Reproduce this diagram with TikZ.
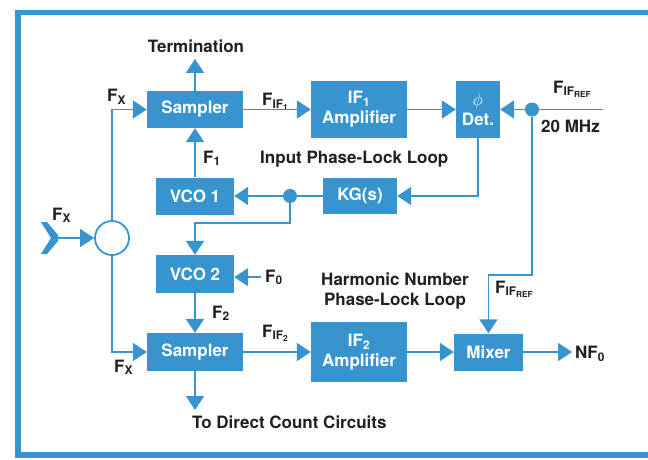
\documentclass[tikz,border=0pt]{standalone}
\usepackage[no-math]{fontspec}
\setmainfont{TeX Gyre Heros}
\usepackage{tikz}
\usetikzlibrary{arrows.meta}

\definecolor{hpblue}{RGB}{56,148,207}
\definecolor{ink}{RGB}{35,31,32}
\newcommand{\diagfont}{\fontsize{17}{20}\selectfont\bfseries}

\tikzset{
  blk/.style={fill=hpblue,text=white,font=\diagfont,inner sep=0pt,align=center},
  sig/.style={draw=hpblue,line width=1.8pt},
  flow/.style={sig,-{Triangle[length=14pt,width=18pt]}},
  lbl/.style={text=ink,font=\diagfont,inner sep=0pt},
  junc/.style={circle,fill=hpblue,minimum size=14pt,inner sep=0pt}
}

\begin{document}
\begin{tikzpicture}[x=1pt,y=-1pt]
       \useasboundingbox (0,0) rectangle (648,460);
       \clip (0,0) rectangle (648,460);
       \draw[hpblue,line width=5.5pt] (660,12.5) -- (18,12.5) -- (18,455) -- (660,455);

       \begin{scope}
         \node[blk,minimum width=96pt,minimum height=37pt] (smp1) at (195,109.5) {Sampler};
         \node[blk,minimum width=96pt,minimum height=56pt] (if1) at (359,109.5) {IF\textsubscript{1}\\Amplifier};
         \node[blk,minimum width=44pt,minimum height=56pt] (det) at (478,109.5) {{\fontsize{16}{16}\selectfont$\phi$}\\Det.};
         \node[blk,minimum width=74pt,minimum height=36pt] (kg) at (360,196) {KG(s)};
         \node[blk,minimum width=78pt,minimum height=37pt] (vco1) at (195,196) {VCO 1};
         \node[blk,minimum width=78pt,minimum height=38pt] (vco2) at (195,274) {VCO 2};
         \node[blk,minimum width=96pt,minimum height=38pt] (smp2) at (195,352) {Sampler};
         \node[blk,minimum width=96pt,minimum height=60pt] (if2) at (359,352) {IF\textsubscript{2}\\Amplifier};
         \node[blk,minimum width=69pt,minimum height=37pt] (mix) at (488.5,352) {Mixer};
         \node[circle,draw=hpblue,line width=1.8pt,fill=white,minimum size=34pt,inner sep=0pt] (cin) at (112,238) {};
         \node[junc] (dot1) at (532,109.5) {};
         \node[junc] (dot2) at (290,196) {};
       \end{scope}

       \coordinate (term) at (195,59);
       \coordinate (fref) at (603,109.5);
       \coordinate (split) at (195,223);
       \coordinate (turn) at (488.5,275);
       \coordinate (cnt) at (195,410);
       \coordinate (xin) at (56,238);

       \node[lbl,anchor=base] (termtxt) at (196,53) {Termination};
       \node[lbl,anchor=base west] (fx1) at (107,102) {F\textsubscript{X}};
       \node[lbl,anchor=base west] (fif1) at (262,106) {F\textsubscript{IF\textsubscript{1}}};
       \node[lbl,anchor=base west] (fref1) at (553,93) {F\textsubscript{IF\textsubscript{REF}}};
       \node[lbl,anchor=base west] (mhz) at (541,132) {20 MHz};
       \node[lbl,anchor=base west] (f1) at (203,163) {F\textsubscript{1}};
       \node[lbl,anchor=base west] (iploop) at (260,163) {Input Phase-Lock Loop};
       \node[lbl,anchor=base west] (fx0) at (52,220) {F\textsubscript{X}};
       \node[lbl,anchor=base west,inner xsep=4pt] (f0) at (261,282) {F\textsubscript{0}};
       \node[lbl,align=center] (hnloop) at (395,291) {Harmonic Number\\Phase-Lock Loop};
       \node[lbl,anchor=base west] (fref2) at (495,293) {F\textsubscript{IF\textsubscript{REF}}};
       \node[lbl,anchor=base west] (f2) at (212,318) {F\textsubscript{2}};
       \node[lbl,anchor=base west] (fif2) at (262,337) {F\textsubscript{IF\textsubscript{2}}};
       \node[lbl,anchor=base west] (fx2) at (114,372) {F\textsubscript{X}};
       \node[lbl,anchor=west,inner xsep=3pt] (nf0) at (572,354) {NF\textsubscript{0}};
       \node[lbl,anchor=base west] (dctxt) at (192,428) {To Direct Count Circuits};

       \fill[hpblue] (41,222) -- (47,222) -- (58,235) -- (58,241) -- (47,254) -- (41,254) -- (51,238) -- cycle;

       \draw[flow] (xin) -- (cin.west);
       \draw[flow] (cin.north) |- (smp1.west);
       \draw[flow] (cin.south) |- (smp2.west);
       \draw[flow] (smp1.north) -- (term);
       \draw[flow] (smp1.east) -- (if1.west);
       \draw[flow] (if1.east) -- (det.west);
       \draw[sig] (fref) -- (dot1);
       \draw[flow] (dot1) -- (det.east);
       \draw[flow] (det.south) |- (kg.east);
       \draw[sig] (kg.west) -- (dot2);
       \draw[flow] (dot2) -- (vco1.east);
       \draw[flow] (vco1.north) -- (smp1.south);
       \draw[flow] (dot2) |- (split) -- (vco2.north);
       \draw[flow] (f0.west) -- (f0.west -| vco2.east);
       \draw[flow] (vco2.south) -- (smp2.north);
       \draw[flow] (smp2.east) -- (if2.west);
       \draw[flow] (if2.east) -- (mix.west);
       \draw[flow] (dot1) |- (turn) -- (mix.north);
       \draw[flow] (mix.east) -- (mix.east -| nf0.west);
       \draw[flow] (smp2.south) -- (cnt);
     \end{tikzpicture}
\end{document}
